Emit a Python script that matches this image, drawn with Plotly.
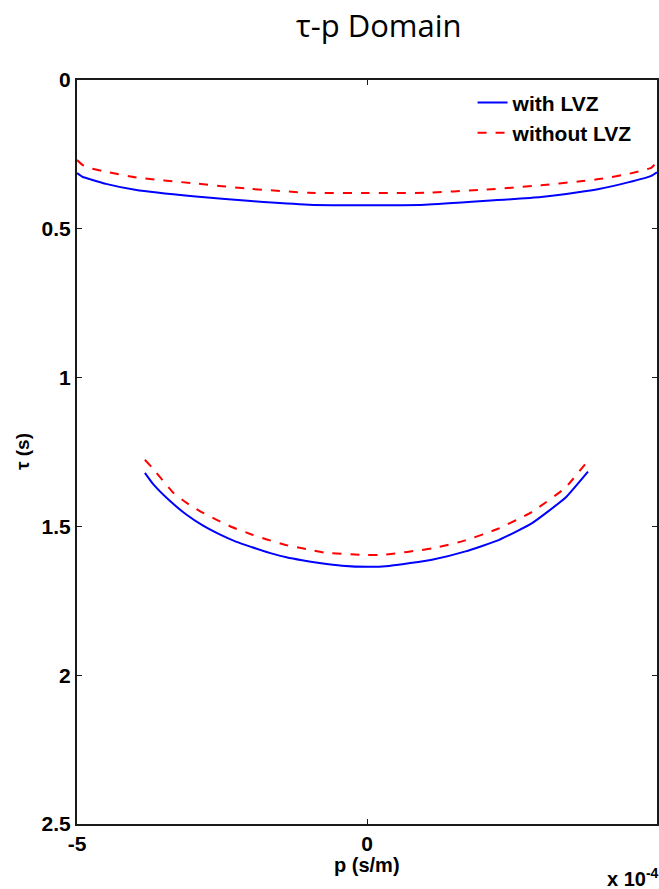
import plotly.graph_objects as go

# Ray parameter p (x 1e-4 s/m) and intercept time tau (s) for each branch
p_upper = [-5.0, -4.9, -4.78, -4.5, -4.0, -3.0, -2.0, -1.0, 0.0, 1.0, 2.0, 3.0, 3.64, 4.0, 4.5, 4.9, 5.0]
tau_upper_lvz = [0.313, 0.326, 0.333, 0.349, 0.369, 0.391, 0.407, 0.419, 0.421, 0.419, 0.407, 0.393, 0.377, 0.366, 0.344, 0.322, 0.310]
tau_upper_nolvz = [0.269, 0.286, 0.296, 0.308, 0.327, 0.347, 0.366, 0.379, 0.380, 0.379, 0.369, 0.354, 0.341, 0.333, 0.316, 0.295, 0.276]

p_lower_lvz = [-3.83, -3.69, -3.40, -3.11, -2.84, -2.54, -2.25, -1.98, -1.68, -1.39, -1.12, -0.82, -0.43, 0.0,
               0.38, 1.12, 1.70, 2.27, 2.84, 3.42, 3.81]
tau_lower_lvz = [1.320, 1.357, 1.414, 1.461, 1.496, 1.527, 1.552, 1.570, 1.589, 1.604, 1.614, 1.623, 1.632, 1.636,
                 1.633, 1.612, 1.584, 1.546, 1.490, 1.404, 1.316]

p_lower_nolvz = [-3.83, -3.69, -3.35, -3.11, -2.89, -2.59, -2.32, -1.99, -1.74, -1.39, -1.05, -0.70, 0.0,
                 0.26, 1.12, 1.70, 2.27, 2.84, 3.42, 3.79]
tau_lower_nolvz = [1.276, 1.306, 1.385, 1.421, 1.448, 1.478, 1.503, 1.527, 1.543, 1.563, 1.576, 1.589, 1.596,
                   1.596, 1.574, 1.547, 1.507, 1.452, 1.370, 1.284]

x_ticks = [-5, 0, 5]
y_ticks = [0, 0.5, 1, 1.5, 2, 2.5]
y_tick_text = ["0", "0.5", "1", "1.5", "2", "2.5"]

FONT = "Liberation Sans, Arial, sans-serif"

def join(pa, ta, pb, tb):
    return pa + [None] + pb, ta + [None] + tb

x_lvz, y_lvz = join(p_upper, tau_upper_lvz, p_lower_lvz, tau_lower_lvz)
x_no, y_no = join(p_upper, tau_upper_nolvz, p_lower_nolvz, tau_lower_nolvz)

fig = go.Figure()
fig.add_trace(go.Scatter(x=x_lvz, y=y_lvz, mode="lines", name="with LVZ",
                         line=dict(color="#0000ff", width=2, shape="spline", smoothing=0.4),
                         connectgaps=False))
fig.add_trace(go.Scatter(x=x_no, y=y_no, mode="lines", name="without LVZ",
                         line=dict(color="#ff0000", width=2, dash="dash", shape="spline", smoothing=0.4),
                         connectgaps=False))

axis_common = dict(
    showline=True, linecolor="#1a1a1a", linewidth=2, mirror="ticks",
    ticks="inside", ticklen=5, tickcolor="#1a1a1a", tickwidth=1,
    showgrid=False, zeroline=False,
    tickfont=dict(family=FONT, size=21, color="black", weight="bold"),
)

fig.update_xaxes(range=[-5, 5], tickvals=x_ticks, ticktext=[str(v) for v in x_ticks], **axis_common)
fig.update_yaxes(range=[2.5, 0], tickvals=y_ticks, ticktext=y_tick_text, **axis_common)

fig.update_layout(
    width=659, height=889,
    margin=dict(l=77, r=0, t=80, b=65),
    paper_bgcolor="white", plot_bgcolor="white",
    showlegend=True,
    legend=dict(x=0.682, y=0.997, xanchor="left", yanchor="top",
                bgcolor="rgba(0,0,0,0)", borderwidth=0,
                font=dict(family=FONT, size=21, color="black", weight="bold"),
                tracegroupgap=0, itemwidth=30),
    annotations=[
        dict(text="τ-p Domain", xref="paper", yref="paper", x=0.52, y=1.0, yshift=55,
             xanchor="center", yanchor="middle", showarrow=False,
             font=dict(family="Open Sans, sans-serif", size=31, color="black")),
        dict(text="p (s/m)", xref="paper", yref="paper", x=0.5, y=0, yshift=-41,
             xanchor="center", yanchor="middle", showarrow=False,
             font=dict(family=FONT, size=20, color="black", weight="bold")),
        dict(text="τ (s)", xref="paper", yref="paper", x=0, xshift=-55, y=0.5,
             xanchor="center", yanchor="middle", textangle=-90, showarrow=False,
             font=dict(family=FONT, size=19, color="black", weight="bold")),
        dict(text="x 10<sup>-4</sup>", xref="paper", yref="paper", x=1.0, xshift=4, y=0, yshift=-53,
             xanchor="right", yanchor="middle", showarrow=False,
             font=dict(family=FONT, size=20, color="black", weight="bold")),
    ],
)

fig.write_html("out.html")
